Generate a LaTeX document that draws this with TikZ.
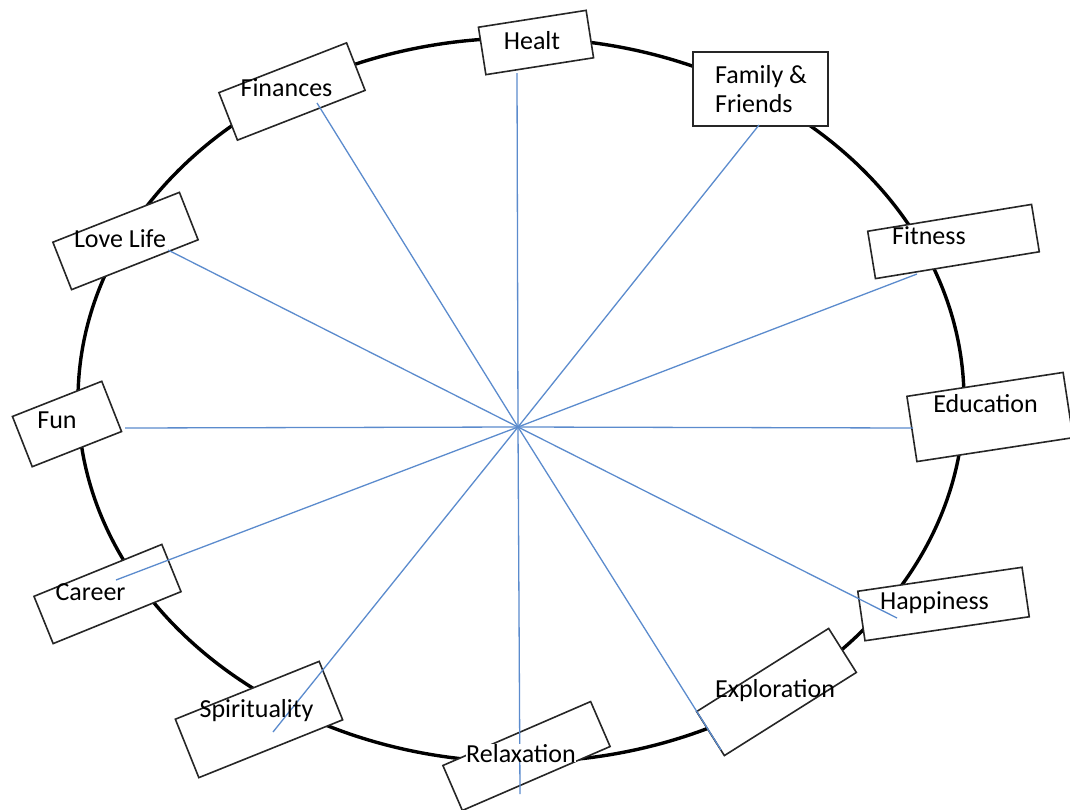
\documentclass[tikz,border=0pt]{standalone}
\usepackage{fontspec}
\setmainfont{Carlito}
\definecolor{spokeblue}{RGB}{91,139,205}

\begin{document}
\begin{tikzpicture}[x=1pt,y=-1pt,
    tag/.style={draw=black!85,fill=white,line width=1.6pt,inner sep=0pt},
    word/.style={font=\fontsize{26}{29}\selectfont,inner sep=0pt,anchor=base},
    spoke/.style={spokeblue,line width=1.3pt}]
    \useasboundingbox (0,0) rectangle (1070,809);

    % Wheel
    \draw[line width=3.4pt] (521,400) ellipse [x radius=443pt, y radius=362pt];

    % Boxes
    \node[tag,minimum width=109pt,minimum height=48pt,rotate=8.9] (health) at (536,42.5) {};
    \node[tag,minimum width=135pt,minimum height=74pt] (family) at (760.5,89) {};
    \node[tag,minimum width=166pt,minimum height=48pt,rotate=9.3] (fitness) at (953.5,241.5) {};
    \node[tag,minimum width=158pt,minimum height=66pt,rotate=8.7] (education) at (990,417) {};
    \node[tag,minimum width=166pt,minimum height=50pt,rotate=8.3] (happiness) at (943.5,604) {};
    \node[tag,minimum width=156pt,minimum height=52pt,rotate=32.2] (exploration) at (776.5,692) {};
    \node[tag,minimum width=161pt,minimum height=49pt,rotate=23.4] (relaxation) at (526.5,756) {};
    \node[tag,minimum width=155pt,minimum height=63pt,rotate=21.9] (spirituality) at (259,719.5) {};
    \node[tag,minimum width=138pt,minimum height=51pt,rotate=22.1] (career) at (107.5,594) {};
    \node[tag,minimum width=96pt,minimum height=54pt,rotate=21.5] (fun) at (67,424) {};
    \node[tag,minimum width=136pt,minimum height=51pt,rotate=21.5] (lovelife) at (125.5,241) {};
    \node[tag,minimum width=137pt,minimum height=51pt,rotate=21.3] (finances) at (292,91.5) {};

    % Spokes
    \coordinate (hub) at (518,427);
    \coordinate (health-end) at (517,73);
    \coordinate (family-end) at (759,125);
    \coordinate (fitness-end) at (917,274);
    \coordinate (education-end) at (913,428);
    \coordinate (happiness-end) at (897,618);
    \coordinate (exploration-end) at (721,750);
    \coordinate (relaxation-end) at (520,794);
    \coordinate (spirituality-end) at (273,732);
    \coordinate (career-end) at (116,580);
    \coordinate (fun-end) at (125,428);
    \coordinate (lovelife-end) at (168,250);
    \coordinate (finances-end) at (317,103);
    \foreach \n in {health,family,fitness,education,happiness,exploration,
        relaxation,spirituality,career,fun,lovelife,finances}
        \draw[spoke] (hub) -- (\n-end);

    % Labels
    \node[word] (health-t) at (532,49) {Healt};
    \node[word,anchor=base west,align=left] (family-t) at (715,112) {Family \&\\Friends};
    \node[word] (fitness-t) at (929,244) {Fitness};
    \node[word] (education-t) at (985.5,412) {Education};
    \node[word] (happiness-t) at (934.5,609) {Happiness};
    \node[word] (exploration-t) at (775,697) {Exploration};
    \node[word,fill=white] (relaxation-t) at (521,762) {Relaxation};
    \node[word] (spirituality-t) at (256.5,717) {Spirituality};
    \node[word] (career-t) at (90.5,600) {Career};
    \node[word] (fun-t) at (57,428) {Fun};
    \node[word] (lovelife-t) at (120,247) {Love Life};
    \node[word] (finances-t) at (286.5,96) {Finances};
\end{tikzpicture}
\end{document}
